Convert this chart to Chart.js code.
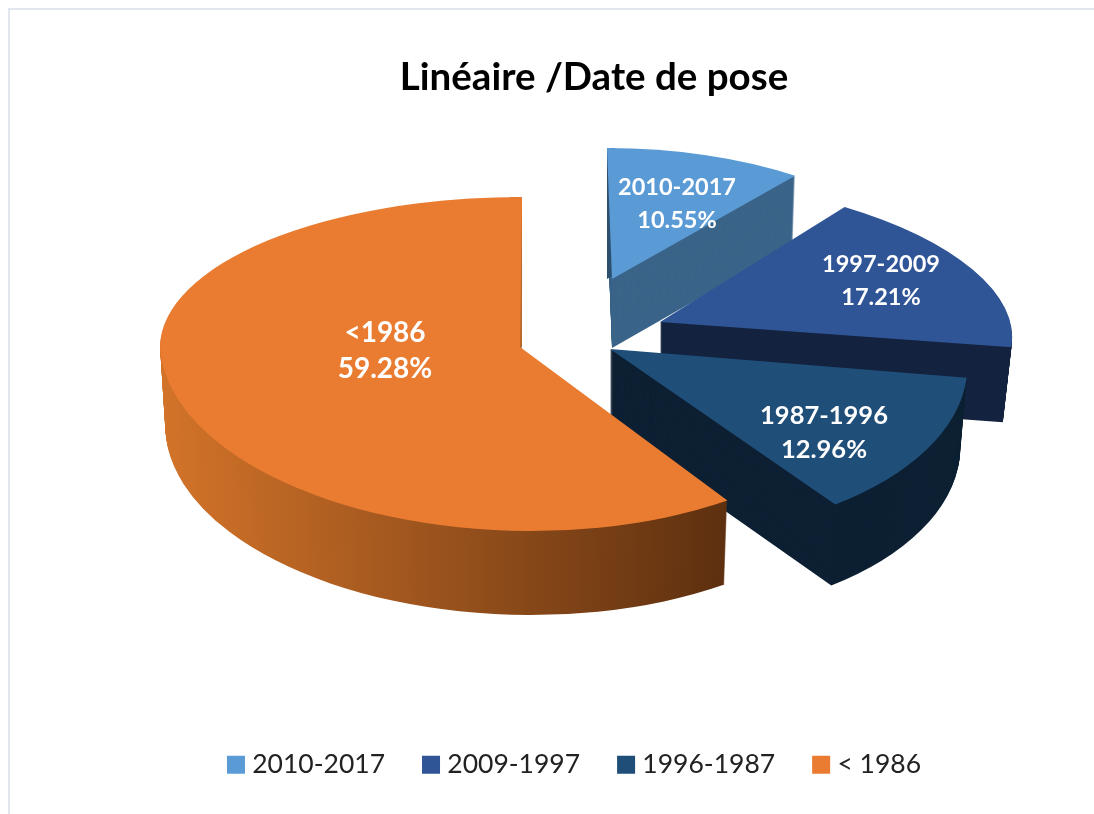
<!DOCTYPE html>
<html>
<head>
<meta charset="utf-8">
<title>Linéaire /Date de pose</title>
<script src="https://cdn.jsdelivr.net/npm/chart.js@4"></script>
<style>
  html, body { margin: 0; padding: 0; background: #fff; overflow: hidden; }
  #wrap { position: relative; width: 1094px; height: 814px; }
  #frame { position: absolute; left: 8px; top: 8px; right: 0; bottom: 0; border-left: 2px solid #e1e6ef; border-top: 2px solid #e1e6ef; pointer-events: none; }
</style>
</head>
<body>
<div id="wrap">
  <canvas id="myChart" width="1094" height="814"></canvas>
  <div id="frame"></div>
</div>
<script>
var chartTitle = 'Linéaire /Date de pose';
var legendLabels = ['2010-2017', '2009-1997', '1996-1987', '< 1986'];
var sliceLabels = ['2010-2017', '1997-2009', '1987-1996', '<1986'];
var values = [10.55, 17.21, 12.96, 59.28];
var topColors = ['#5b9bd5', '#2f5597', '#1f4e79', '#ea7c31'];
var sideColors = ['#3b6489', '#14233f', '#0d2033', null];

// how each exploded slice sits in the fake 3D view (Excel perspective)
var views = [
  { ax: 612, ay: 279, depth: 69, shrink: 0.012, parts: [{ rx: 304, k: -5, m: 0, ry: 131 }], label: [677, 204], size: 23.5, gap: 16.5,
    back: { dx: -5, color: '#2c4f70', part: { rx: 304, k: 0, m: 0, ry: 131 }, clipX: [600, 615] } },
  { ax: 660, ay: 322, depth: 75, shrink: 0.025, parts: [{ rx: 350, k: -39, m: 0, ry: 146 }], label: [881, 281], size: 23.5, gap: 16.5 },
  { ax: 610, ay: 349, depth: 81, shrink: 0.02, parts: [{ rx: 356, k: -35, m: -4, ry: 189 }], label: [824, 433], size: 25.5, gap: 17 },
  { ax: 520, ay: 347, depth: 84, shrink: 0.015, parts: [
      { rx: 360, k: 2, m: 0, ry: 150, clip: 'up' },
      { rx: 360, k: -11, m: 0, ry: 184, clip: 'down' }
    ], label: [385, 351], size: 28, gap: 18,
    back: { dx: 2, color: '#b56a2c', part: { rx: 360, k: 0, m: 0, ry: 150, clip: 'up' }, clipX: [510, 530] } }
];

function paintArc(ctx, arc, view, part, dy, scale, color, dx, clipX) {
  var R = arc.outerRadius;
  var cy = view.ay + dy;
  ctx.save();
  if (part.clip || clipX) {
    var x0 = clipX ? clipX[0] : 0;
    var w = clipX ? clipX[1] - clipX[0] : 1094;
    ctx.beginPath();
    if (part.clip === 'up') ctx.rect(x0, 0, w, cy);
    else if (part.clip === 'down') ctx.rect(x0, cy, w, 814 - cy);
    else ctx.rect(x0, 0, w, 814);
    ctx.clip();
  }
  ctx.translate(view.ax + (dx || 0), cy);
  // only the width narrows toward the bottom of the extrusion
  ctx.transform(part.rx * scale / R, part.m / R, -part.k / R, part.ry / R, 0, 0);
  ctx.translate(-arc.x, -arc.y);
  var saved = arc.options;
  var o = Object.create(saved);
  o.backgroundColor = color;
  arc.options = o;
  arc.draw(ctx);
  arc.options = saved;
  ctx.restore();
}

var pie3d = {
  id: 'pie3d',
  afterLayout: function(chart) {
    // the title sits right of the legend in the original
    chart.titleBlock.left += 17;
    chart.titleBlock.right += 17;
  },
  beforeDatasetDraw: function(chart) {
    var ctx = chart.ctx;
    var arcs = chart.getDatasetMeta(0).data;
    arcs.forEach(function(arc, i) {
      var view = views[i];
      var side = sideColors[i];
      if (!side) {
        var R = arc.outerRadius;
        side = ctx.createLinearGradient(arc.x - R, 0, arc.x + R, 0);
        side.addColorStop(0, '#d27329');
        side.addColorStop(0.78, '#5c2f0f');
        side.addColorStop(1, '#5c2f0f');
      }
      for (var d = view.depth; d >= 1; d--) {
        var scale = 1 - view.shrink * d / view.depth;
        view.parts.forEach(function(part) {
          paintArc(ctx, arc, view, part, d, scale, side);
        });
      }
      if (view.back) {
        paintArc(ctx, arc, view, view.back.part, 0, 1, view.back.color, view.back.dx, view.back.clipX);
      }
      view.parts.forEach(function(part) {
        paintArc(ctx, arc, view, part, 0, 1, topColors[i]);
      });
    });
    return false;
  },
  afterDatasetsDraw: function(chart) {
    var ctx = chart.ctx;
    ctx.save();
    ctx.fillStyle = '#ffffff';
    ctx.textAlign = 'center';
    ctx.textBaseline = 'middle';
    views.forEach(function(view, i) {
      ctx.font = 'bold ' + view.size + 'px Lato';
      ctx.fillText(sliceLabels[i], view.label[0], view.label[1] - view.gap);
      ctx.fillText(values[i].toFixed(2) + '%', view.label[0], view.label[1] + view.gap);
    });
    ctx.restore();
  }
};

var ctx = document.getElementById('myChart');
var myChart = new Chart(ctx, {
  type: 'pie',
  data: {
    labels: legendLabels,
    datasets: [{
      data: values,
      backgroundColor: topColors,
      borderWidth: 0
    }]
  },
  options: {
    responsive: false,
    animation: false,
    rotation: 0,
    layout: { padding: { left: 60, bottom: 26 } },
    plugins: {
      title: {
        display: true,
        text: chartTitle,
        color: '#000',
        font: { family: 'Lato', size: 38.5, weight: 'bold' },
        padding: { top: 54, bottom: 30 }
      },
      legend: {
        position: 'bottom',
        labels: {
          color: '#222',
          usePointStyle: true,
          pointStyle: 'rect',
          boxWidth: 6,
          boxHeight: 18,
          padding: 43,
          font: { family: 'Lato', size: 26.5 }
        }
      },
      tooltip: { enabled: false }
    }
  },
  plugins: [pie3d]
});
</script>
</body>
</html>
